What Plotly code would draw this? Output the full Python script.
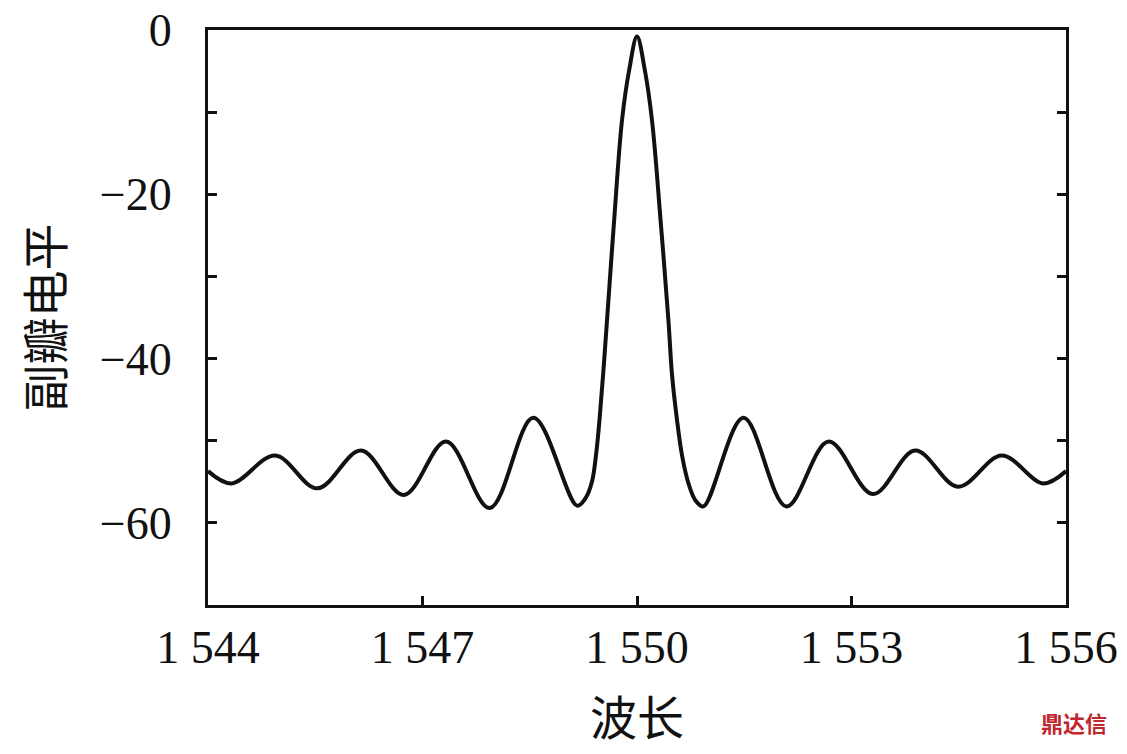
import plotly.graph_objects as go

# Wavelength (nm) and side-lobe level (dB)
wavelength = [1544.0, 1544.33, 1544.94, 1545.53, 1546.14, 1546.74, 1547.33, 1547.94,
              1548.55, 1549.16, 1549.28, 1549.37, 1549.43, 1549.48, 1549.53, 1549.58, 1549.68,
              1549.79, 1549.89, 1550.0, 1550.11, 1550.21, 1550.33, 1550.44, 1550.49,
              1550.56, 1550.63, 1550.72, 1550.82, 1550.93,
              1551.49, 1552.09, 1552.68, 1553.30, 1553.89, 1554.49, 1555.10, 1555.68, 1556.0]
level = [-53.7, -55.2, -51.8, -55.8, -51.2, -56.6, -50.1, -58.2,
         -47.2, -57.9, -57.0, -55.0, -51.5, -47.0, -41.5, -35.4, -23.2,
         -11.0, -4.9, -0.8, -4.9, -11.0, -23.2, -35.4, -42.0,
         -47.5, -51.8, -55.2, -57.3, -58.0,
         -47.2, -58.0, -50.1, -56.5, -51.2, -55.6, -51.8, -55.2, -53.7]

x_ticks = [1544, 1547, 1550, 1553, 1556]
x_ticktext = ["1 544", "1 547", "1 550", "1 553", "1 556"]
y_ticks = [-70, -60, -50, -40, -30, -20, -10, 0]
y_ticktext = ["", "−60", "", "−40", "", "−20", "", "0"]

fig = go.Figure()
fig.add_trace(go.Scatter(x=wavelength, y=level, mode="lines",
                         line=dict(color="#111111", width=4, shape="spline", smoothing=1.0),
                         showlegend=False, hoverinfo="skip"))

font_serif = "Liberation Serif, Times New Roman, serif"
fig.update_layout(
    width=1119, height=746,
    margin=dict(l=200, r=61, t=22, b=149),
    paper_bgcolor="white", plot_bgcolor="white",
    font=dict(family=font_serif, color="#111111", size=46),
)
fig.update_xaxes(
    range=[1544, 1556], tickvals=x_ticks, ticktext=x_ticktext,
    ticks="inside", ticklen=9, tickwidth=3, tickcolor="#111111",
    showline=True, linewidth=3, linecolor="#111111", mirror=True,
    showgrid=False, zeroline=False, ticklabelstandoff=0, automargin=False,
    ticklabeloverflow="allow",
    tickfont=dict(family=font_serif, size=46),
    title=dict(text="波长", font=dict(family="Noto Sans CJK SC", size=47), standoff=30),
)
fig.update_yaxes(
    range=[-70, 0], tickvals=y_ticks, ticktext=y_ticktext,
    ticks="inside", ticklen=9, tickwidth=3, tickcolor="#111111",
    showline=True, linewidth=3, linecolor="#111111", mirror="ticks",
    showgrid=False, zeroline=False, ticklabelstandoff=24, automargin=False,
    ticklabeloverflow="allow",
    tickfont=dict(family=font_serif, size=46),
    title=dict(text="副瓣电平", font=dict(family="Noto Sans CJK SC", size=47), standoff=35),
)
fig.add_annotation(text="<b>鼎达信</b>", xref="paper", yref="paper", x=1.05, y=-0.203,
                   xanchor="right", yanchor="middle", showarrow=False,
                   font=dict(family="Noto Sans CJK SC", size=22, color="#c0282d"))
fig.write_html("out.html")
